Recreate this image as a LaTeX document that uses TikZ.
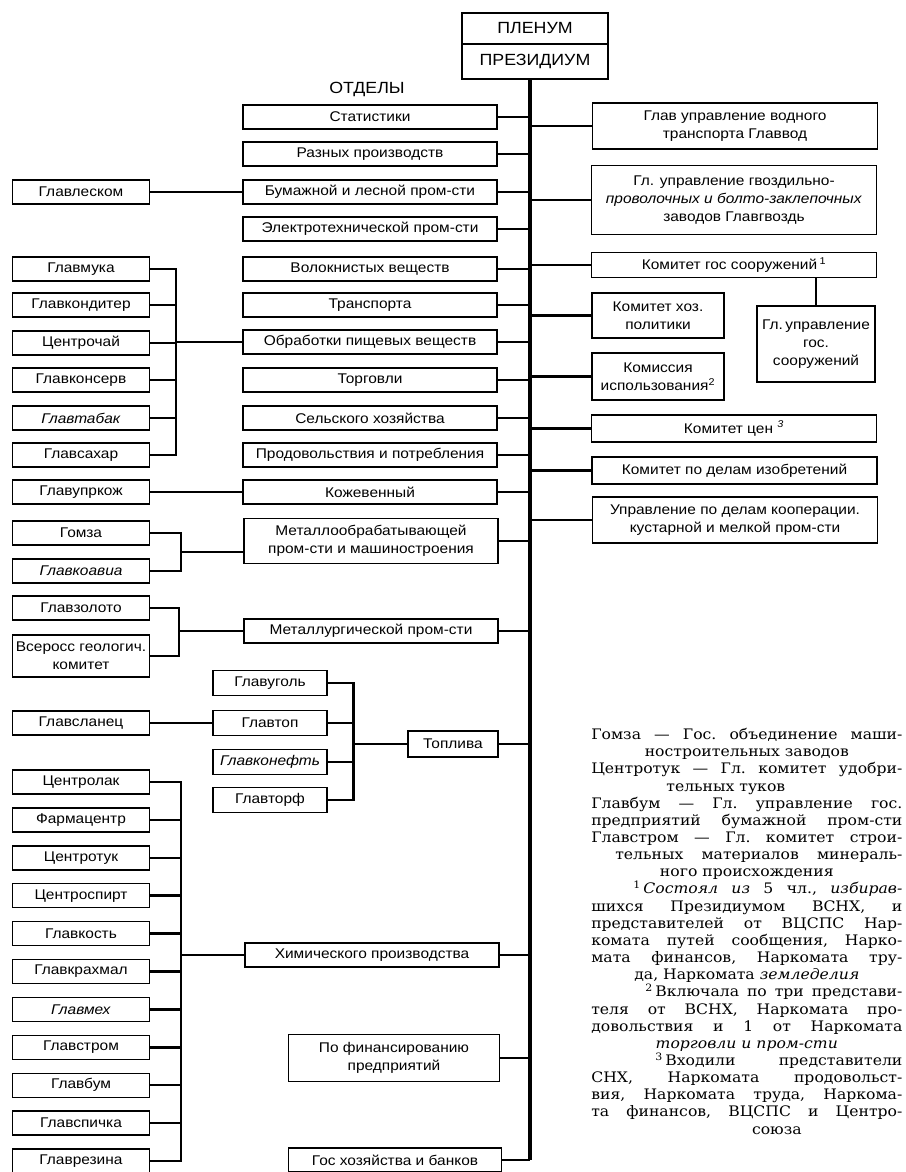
\documentclass[tikz,border=0pt]{standalone}
\usepackage{fontspec}
\setmainfont[FakeStretch=1.1]{Liberation Sans}
\newfontfamily\notefont[FakeStretch=1.08]{DejaVu Serif}
\newlength\notew
\setlength\notew{7.775cm}
\newcommand\jline[1]{\makebox[\notew][s]{#1}}
\newcommand\mline[1]{\makebox[\notew][c]{#1}}
\tikzset{
        box/.style={draw, line width=1pt, inner sep=1pt, align=center,
            font=\fontsize{10}{12.8}\selectfont},
        dept/.style={box, minimum width=254*0.025cm, minimum height=24*0.025cm},
        glav/.style={box, minimum width=137*0.025cm, minimum height=24*0.025cm},
        fuel/.style={box, minimum width=114*0.025cm, minimum height=25*0.025cm},
        rbox/.style={box, minimum width=285*0.025cm},
        head/.style={box, line width=2pt, minimum width=146*0.025cm,
            font=\fontsize{11.5}{13}\selectfont},
        link/.style={line width=1.8pt},
        spine/.style={line width=2.6pt},
    }
\begin{document}
\begin{tikzpicture}[x=0.025cm, y=-0.025cm]
                \useasboundingbox (0,0) rectangle (906,1172);
                \node[head, minimum height=31*0.025cm] (plenum) at (535,28.5) {ПЛЕНУМ};
                \node[head, minimum height=35*0.025cm] (presid) at (535,61.5) {ПРЕЗИДИУМ};
                \node[font=\fontsize{11.5}{13}\selectfont] (otdely) at (367,89) {ОТДЕЛЫ};
                \path (presid.south) ++(-5,0) coordinate (spinetop);
                \foreach \n/\y/\txt in {stat/117/Статистики, razn/154/Разных производств,
                    bum/192/Бумажной и лесной пром-сти, elek/229/Электротехнической пром-сти,
                    volok/269/Волокнистых веществ, transp/305/Транспорта,
                    pisch/342/Обработки пищевых веществ, torg/380/Торговли,
                    selsk/418/Сельского хозяйства, prod/455/Продовольствия и потребления,
                    kozh/492/Кожевенный}
                {
                    \node[dept] (\n) at (370,\y) {\txt};
                }
                \node[dept, minimum height=45*0.025cm] (metobr) at (371,541) {Металлообрабатывающей\\пром-сти и машиностроения};
                \node[dept] (metall) at (371,631) {Металлургической пром-сти};
                \node[box, minimum width=90*0.025cm, minimum height=26*0.025cm] (topl) at (453,744) {Топлива};
                \node[dept] (chem) at (372,955) {Химического производства};
                \node[box, minimum width=211*0.025cm, minimum height=47*0.025cm] (fin) at (394,1058) {По финансированию\\предприятий};
                \node[box, minimum width=213*0.025cm, minimum height=24*0.025cm] (gosbank) at (395,1160) {Гос хозяйства и банков};
                \draw[spine] (spinetop) -- (spinetop |- gosbank.east);
                \foreach \n in {stat,razn,bum,elek,volok,transp,pisch,torg,selsk,prod,kozh,metobr,metall,topl,chem,fin,gosbank}
                    \draw[link] (\n.east) -- (\n.east -| spinetop);

                \node[rbox, minimum height=46*0.025cm] (glavvod) at (735,126) {Глав управление водного\\транспорта Главвод};
                \node[rbox, minimum height=69*0.025cm] (gvozd) at (734,200) {Гл. управление гвоздильно-\\\textit{проволочных и болто-заклепочных}\\заводов Главгвоздь};
                \node[rbox, minimum height=25*0.025cm] (komgos) at (734,265) {Комитет гос сооружений\,\textsuperscript{1}};
                \node[box, minimum width=132*0.025cm, minimum height=45*0.025cm] (komhoz) at (658,315.5) {Комитет хоз.\\политики};
                \node[box, minimum width=118*0.025cm, minimum height=76*0.025cm] (glgos) at (816,344) {Гл.\,управление\\гос.\\сооружений};
                \node[box, minimum width=132*0.025cm, minimum height=47*0.025cm] (komiss) at (658,376.5) {Комиссия\\использования\textsuperscript{2}};
                \node[rbox, minimum height=27*0.025cm] (komcen) at (734,428.5) {Комитет цен \textsuperscript{\textit{3}}};
                \node[rbox, minimum height=27*0.025cm] (izobr) at (734.5,470.5) {Комитет по делам изобретений};
                \node[rbox, minimum height=46*0.025cm] (koop) at (735,520) {Управление по делам кооперации.\\кустарной и мелкой пром-сти};
                \foreach \n in {glavvod,gvozd,komgos,komhoz,komiss,komcen,izobr,koop}
                    \draw[link] (\n.west -| spinetop) -- (\n.west);
                \draw[link] (glgos.north) -- (glgos.north |- komgos.south);

                \node[glav] (glavles) at (81,192) {Главлеском};
                \draw[link] (glavles.east) -- (bum.west);
                \foreach \n/\y/\txt in {muka/269/Главмука, kond/305/Главкондитер, chai/343/Центрочай,
                    kons/380/Главконсерв, tabak/418/\textit{Главтабак}, sahar/455/Главсахар}
                {
                    \node[glav] (\n) at (81,\y) {\txt};
                }
                \draw[link] (muka.east) -- ++(26,0) coordinate (foodbr) |- (sahar.east);
                \foreach \n in {kond,chai,kons,tabak}
                    \draw[link] (\n.east) -- (\n.east -| foodbr);
                \draw[link] (pisch.west) -- (pisch.west -| foodbr);
                \node[glav] (upkozh) at (81,492) {Главупркож};
                \draw[link] (upkozh.east) -- (kozh.west);

                \node[glav] (gomza) at (81,533) {Гомза};
                \node[glav] (koavia) at (81,571) {\textit{Главкоавиа}};
                \draw[link] (gomza.east) -- ++(31,0) coordinate (metbr) |- (koavia.east);
                \path (gomza.east) -- (koavia.east) coordinate[pos=0.5] (metmid);
                \draw[link] (metmid -| metbr) -- (metmid -| metobr.west);
                \node[glav] (zoloto) at (81,608) {Главзолото};
                \node[glav, minimum height=42*0.025cm] (geolog) at (81,656) {Всеросс геологич.\\комитет};
                \draw[link] (zoloto.east) -- ++(29,0) coordinate (zolbr) |- (geolog.east);
                \draw[link] (metall.west) -- (metall.west -| zolbr);

                \foreach \n/\y/\txt in {ugol/683/Главуголь, glavtop/723/Главтоп,
                    neft/762/\textit{Главконефть}, torf/800/Главторф}
                {
                    \node[fuel] (\n) at (270,\y) {\txt};
                }
                \node[glav] (slanec) at (81,723) {Главсланец};
                \draw[link] (slanec.east) -- (glavtop.west);
                \draw[link] (ugol.east) -- ++(26,0) coordinate (fuelbr) |- (torf.east);
                \foreach \n in {glavtop,neft}
                    \draw[link] (\n.east) -- (\n.east -| fuelbr);
                \draw[link] (topl.west) -- (topl.west -| fuelbr);

                \foreach \n/\i/\txt in {centrolak/0/Центролак, farma/1/Фармацентр, centrotuk/2/Центротук,
                    spirt/3/Центроспирт, kost/4/Главкость, krahmal/5/Главкрахмал, mex/6/\textit{Главмех},
                    strom/7/Главстром, glavbum/8/Главбум, spichka/9/Главспичка, rezina/10/Главрезина}
                {
                    \node[glav] (\n) at (81,{782+37.9*\i}) {\txt};
                }
                \draw[link] (centrolak.east) -- ++(31,0) coordinate (chembr) |- (rezina.east);
                \foreach \n in {farma,centrotuk,spirt,kost,krahmal,mex,strom,glavbum,spichka}
                    \draw[link] (\n.east) -- (\n.east -| chembr);
                \draw[link] (chem.west) -- (chem.west -| chembr);

                \node[anchor=north west, inner sep=0, align=left,
                    font=\notefont\fontsize{10.3}{12.2}\selectfont\frenchspacing] (notes) at (591,728) {%
                    \jline{Гомза — Гос. объединение маши-}\\
                    \mline{ностроительных заводов}\\
                    \jline{Центротук — Гл. комитет удобри-}\\
                    \mline{тельных туков\hspace*{1.05cm}}\\
                    \jline{Главбум — Гл. управление гос.}\\
                    \jline{предприятий бумажной пром-сти}\\
                    \jline{Главстром — Гл. комитет строи-}\\
                    \jline{\hspace*{0.6cm}тельных материалов минераль-}\\
                    \mline{ного происхождения}\\
                    \jline{\hspace*{1.05cm}\textsuperscript{1}\,\textit{Состоял из} 5 чл., \textit{избирав-}}\\
                    \jline{шихся Президиумом ВСНХ, и}\\
                    \jline{представителей от ВЦСПС Нар-}\\
                    \jline{комата путей сообщения, Нарко-}\\
                    \jline{мата финансов, Наркомата тру-}\\
                    \mline{да, Наркомата \textit{земледелия}}\\
                    \jline{\hspace*{1.35cm}\textsuperscript{2}\,Включала по три представи-}\\
                    \jline{теля от ВСНХ, Наркомата про-}\\
                    \jline{довольствия и 1 от Наркомата}\\
                    \mline{\textit{торговли и пром-сти}}\\
                    \jline{\hspace*{1.6cm}\textsuperscript{3}\,Входили представители}\\
                    \jline{СНХ, Наркомата продовольст-}\\
                    \jline{вия, Наркомата труда, Наркома-}\\
                    \jline{та финансов, ВЦСПС и Центро-}\\
                    \mline{\hspace*{1.5cm}союза}};
            \end{tikzpicture}
\end{document}
